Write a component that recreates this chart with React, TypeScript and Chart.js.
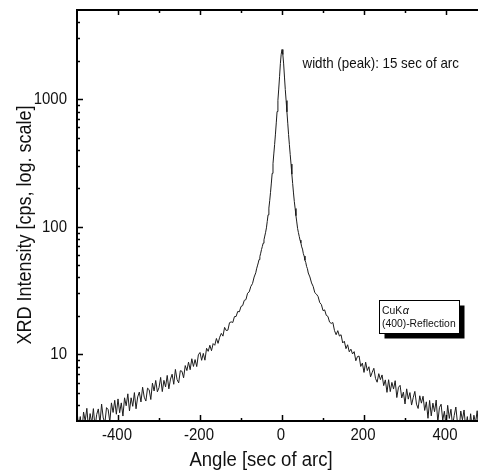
import React, { useEffect, useRef } from "react";
import { Chart, registerables } from "chart.js";

Chart.register(...registerables);

// ---- data (angle in sec of arc, intensity in cps) ----
const leftTail: [number, number][] = [
  [-500, 3.6], [-496, 2.69], [-492, 3.25], [-488, 2.47], [-484, 3.53], [-480, 3.0], [-476, 3.77], [-472, 2.65],
  [-468, 3.43], [-464, 2.88], [-460, 3.75], [-456, 2.67], [-452, 3.37], [-448, 3.73], [-444, 2.89], [-440, 4.07],
  [-436, 3.17], [-432, 2.9], [-428, 3.82], [-424, 3.68], [-420, 2.95], [-416, 4.16], [-412, 3.5], [-408, 4.36],
  [-404, 3.39], [-400, 4.47], [-396, 3.48], [-392, 4.16], [-388, 3.28], [-384, 4.56], [-380, 3.95], [-376, 4.9],
  [-372, 3.6], [-368, 4.56], [-364, 3.91], [-360, 5.01], [-356, 3.74], [-352, 4.63], [-348, 5.06], [-344, 4.23],
  [-340, 5.52], [-336, 4.61], [-332, 4.3], [-328, 5.43], [-324, 5.28], [-320, 4.42], [-316, 5.94], [-312, 5.16],
  [-308, 6.24], [-304, 5.08], [-300, 5.48], [-296, 6.59], [-292, 5.1], [-288, 6.25], [-284, 5.55], [-280, 6.83],
  [-276, 5.36], [-272, 6.39], [-268, 6.98], [-264, 5.82], [-260, 7.61], [-256, 6.35], [-252, 5.97], [-248, 7.44],
  [-244, 7.36], [-240, 6.54], [-236, 8.16], [-232, 7.45], [-228, 8.68], [-224, 7.57], [-220, 9.23], [-216, 8.03],
  [-212, 9.09], [-208, 8.01], [-204, 9.91], [-200, 10.33], [-196, 8.97], [-192, 10.17], [-188, 8.99], [-184, 11.15],
  [-180, 10.55], [-176, 11.77], [-172, 10.67], [-168, 12.13], [-164, 11.77], [-160, 13.31], [-156, 12.18], [-152, 13.6],
  [-148, 14.59], [-144, 13.88], [-140, 16.26], [-136, 15.36], [-132, 15.46], [-128, 17.7], [-124, 17.95], [-120, 17.76],
  [-116, 19.74], [-112, 19.79], [-108, 21.66], [-104, 21.54], [-100, 23.72], [-96, 24.08], [-92, 26.48], [-88, 26.83],
  [-84, 30.12], [-80, 30.88], [-76, 34.07], [-72, 35.82], [-68, 40.32], [-64, 43.56],
];

const peakRegion: [number, number][] = [
  [-62, 46.8], [-60, 49.3], [-58, 52.0], [-56, 55.3], [-54, 58.4], [-52, 62.0], [-50, 66.2], [-48, 70.0],
  [-46, 74.3], [-44, 79.0], [-42, 84.5], [-40, 90.5], [-38, 98], [-36, 110], [-34, 124], [-32, 140],
  [-30, 160], [-28, 186], [-26, 220], [-24, 262], [-22, 312], [-20, 372], [-18, 442], [-16, 532],
  [-14, 652], [-12, 800], [-10, 980], [-8, 1200], [-6, 1500], [-4, 1900], [-2, 2250], [0, 2450],
  [2, 2240], [4, 1890], [6, 1490], [8, 1190], [10, 975], [12, 795], [14, 648], [16, 528],
  [18, 440], [20, 368], [22, 310], [24, 258], [26, 218], [28, 184], [30, 158], [32, 139],
  [34, 122], [36, 109], [38, 97], [40, 90], [42, 84], [44, 78.5], [46, 74.8], [48, 69.5],
  [50, 66.8], [52, 61.5], [54, 58.9], [56, 54.6], [58, 52.4], [60, 48.7], [62, 46.9],
];

const rightTail: [number, number][] = [
  [64, 43.38], [68, 40.4], [72, 36.25], [76, 34.07], [80, 30.44], [84, 29.61], [88, 28.37], [92, 25.45],
  [96, 24.57], [100, 22.0], [104, 22.28], [108, 20.19], [112, 19.81], [116, 17.88], [120, 17.46], [124, 17.76],
  [128, 15.34], [132, 14.24], [136, 15.32], [140, 13.9], [144, 14.24], [148, 12.27], [152, 12.66], [156, 11.07],
  [160, 11.88], [164, 10.46], [168, 10.97], [172, 10.06], [176, 10.49], [180, 8.9], [184, 9.6], [188, 9.68],
  [192, 8.03], [196, 8.53], [200, 7.21], [204, 8.68], [208, 7.45], [212, 7.99], [216, 6.66], [220, 7.23],
  [224, 7.77], [228, 6.47], [232, 6.04], [236, 7.05], [240, 6.33], [244, 6.89], [248, 5.68], [252, 6.3],
  [256, 5.03], [260, 6.32], [264, 5.1], [268, 6.02], [272, 5.34], [276, 6.21], [280, 4.58], [284, 5.51],
  [288, 5.71], [292, 4.55], [296, 5.05], [300, 4.08], [304, 5.36], [308, 4.45], [312, 5.01], [316, 4.0],
  [320, 4.57], [324, 5.12], [328, 4.07], [332, 3.76], [336, 4.73], [340, 4.14], [344, 4.69], [348, 3.63],
  [352, 4.24], [356, 3.15], [360, 4.35], [364, 3.29], [368, 4.14], [372, 3.55], [376, 4.38], [380, 2.95],
  [384, 3.83], [388, 4.06], [392, 3.05], [396, 3.58], [400, 2.72], [404, 3.98], [408, 3.14], [412, 3.71],
  [416, 2.76], [420, 3.32], [424, 3.86], [428, 2.88], [432, 2.6], [436, 3.59], [440, 3.06], [444, 3.66],
  [448, 2.65], [452, 3.25], [456, 2.45], [460, 3.42], [464, 2.61], [468, 3.33], [472, 2.9], [476, 3.61],
  [480, 2.46],
];

const xMajorTicks = [-400, -200, 0, 200, 400];
const xMinorTicks = [-300, -100, 100, 300];
const yMajorTicks = [10, 100, 1000];
const yMinorTicks = [4, 5, 6, 7, 8, 9, 20, 30, 40, 50, 60, 70, 80, 90, 200, 300, 400, 500, 600, 700, 800, 900, 2000, 3000, 4000];
const xRange = [-500, 478];
const yRange = [3, 5000];

const xTitle = "Angle [sec of arc]";
const yTitle = "XRD Intensity [cps, log. scale]";
const peakNote = "width (peak): 15 sec of arc";
const boxLine1 = "CuK";
const boxGreek = "α";
const boxLine2 = "(400)-Reflection";

const FONT = '"Liberation Sans", Arial, Helvetica, sans-serif';

function ctext(
  ctx: CanvasRenderingContext2D,
  text: string,
  x: number,
  y: number,
  size: number,
  sx: number,
  align: CanvasTextAlign,
  rot = 0,
  style = ""
) {
  ctx.save();
  ctx.translate(x, y);
  if (rot) ctx.rotate(rot);
  ctx.scale(sx, 1);
  ctx.font = `${style}${size}px ${FONT}`;
  ctx.textAlign = align;
  ctx.textBaseline = "alphabetic";
  ctx.fillText(text, 0, 0);
  ctx.restore();
}

const framePlugin = {
  id: "frame",
  afterDraw(chart: any) {
    const ctx: CanvasRenderingContext2D = chart.ctx;
    const { left, top, right, bottom } = chart.chartArea;
    const xs = chart.scales.x;
    const ys = chart.scales.y;
    ctx.save();
    ctx.strokeStyle = "#000";
    ctx.fillStyle = "#000";
    ctx.lineWidth = 2;
    ctx.beginPath();
    ctx.moveTo(right, top);
    ctx.lineTo(left, top);
    ctx.lineTo(left, bottom);
    ctx.lineTo(right, bottom);
    ctx.stroke();

    ctx.lineWidth = 1.5;
    ctx.beginPath();
    for (const v of xMajorTicks) {
      const px = Math.round(xs.getPixelForValue(v)) + 0.5;
      ctx.moveTo(px, bottom); ctx.lineTo(px, bottom - 6);
      ctx.moveTo(px, top); ctx.lineTo(px, top + 5);
    }
    for (const v of xMinorTicks) {
      const px = Math.round(xs.getPixelForValue(v)) + 0.5;
      ctx.moveTo(px, bottom); ctx.lineTo(px, bottom - 3);
      ctx.moveTo(px, top); ctx.lineTo(px, top + 3);
    }
    for (const v of yMajorTicks) {
      const py = Math.round(ys.getPixelForValue(v)) + 0.5;
      ctx.moveTo(left, py); ctx.lineTo(left + 6, py);
    }
    for (const v of yMinorTicks) {
      const py = Math.round(ys.getPixelForValue(v)) + 0.5;
      ctx.moveTo(left, py); ctx.lineTo(left + 3, py);
    }
    ctx.stroke();

    ctx.fillStyle = "#111";
    for (const v of xMajorTicks) {
      ctext(ctx, String(v), xs.getPixelForValue(v) - 1, bottom + 19, 17, 0.88, "center");
    }
    for (const v of yMajorTicks) {
      ctext(ctx, String(v), left - 10, ys.getPixelForValue(v) + 5, 17, 0.88, "right");
    }

    ctext(ctx, xTitle, 261, 466, 19.5, 0.95, "center");
    ctext(ctx, yTitle, 30.5, 225, 20, 0.9, "center", -Math.PI / 2);
    ctext(ctx, peakNote, 302.5, 68, 14.5, 0.92, "left");

    // legend box with shadow
    const bx = 379.5, by = 300.5, bw = 80, bh = 33;
    ctx.fillStyle = "#000";
    ctx.fillRect(bx + 5, by + 5, bw, bh);
    ctx.fillStyle = "#fff";
    ctx.fillRect(bx, by, bw, bh);
    ctx.lineWidth = 1;
    ctx.strokeStyle = "#000";
    ctx.strokeRect(bx, by, bw, bh);
    ctx.fillStyle = "#111";
    ctext(ctx, boxLine1, 382, 313.5, 11.5, 0.9, "left");
    ctx.font = `11.5px ${FONT}`;
    const w1 = ctx.measureText(boxLine1).width * 0.9;
    ctext(ctx, boxGreek, 382 + w1 + 0.5, 313.5, 11.5, 0.95, "left", 0, "italic ");
    ctext(ctx, boxLine2, 382, 327, 11.5, 0.9, "left");
    ctx.restore();
  },
};

export default function App() {
  const ref = useRef<HTMLCanvasElement | null>(null);
  useEffect(() => {
    if (!ref.current) return;
    const points = [...leftTail, ...peakRegion, ...rightTail].map(([x, y]) => ({ x, y }));
    const chart = new Chart(ref.current, {
      type: "line",
      data: {
        datasets: [
          {
            data: points,
            borderColor: "#1c1c1c",
            borderWidth: 1,
            pointRadius: 0,
            tension: 0,
            fill: false,
          },
        ],
      },
      options: {
        responsive: false,
        animation: false,
        layout: { padding: { left: 77, top: 10, right: 0, bottom: 51 } },
        plugins: { legend: { display: false }, tooltip: { enabled: false } },
        scales: {
          x: { type: "linear", min: xRange[0], max: xRange[1], display: false },
          y: { type: "logarithmic", min: yRange[0], max: yRange[1], display: false },
        },
      },
      plugins: [framePlugin],
    });
    return () => chart.destroy();
  }, []);
  return (
    <div style={{ position: "fixed", left: 0, top: 0, width: 478, height: 472, background: "#fff" }}>
      <canvas ref={ref} width={478} height={472} style={{ display: "block" }} />
    </div>
  );
}
